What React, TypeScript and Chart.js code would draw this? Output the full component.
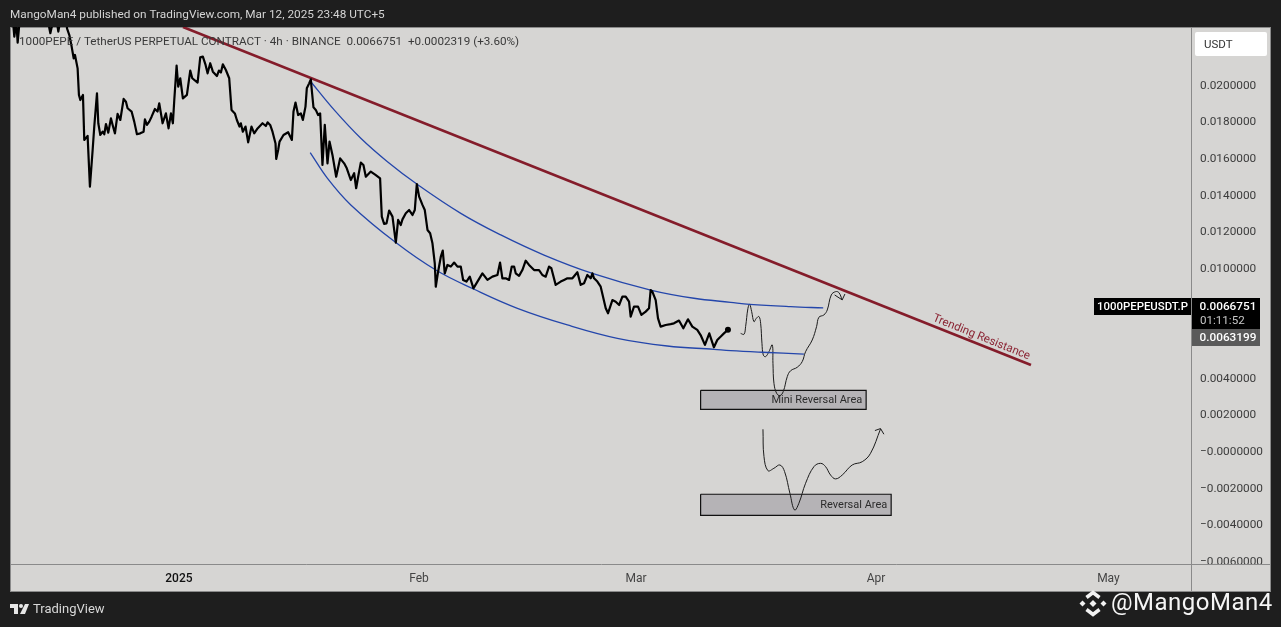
import React, { useEffect, useRef } from "react";
import { Chart, registerables } from "chart.js";

Chart.register(...registerables);

const priceDays = [
  -21.42,-21.25,-20.99,-20.82,-20.56,-16.95,-16.73,-16.6,-16.43,-15.87,-15.57,-15.31,-14.58,-14.45,-14.15,-13.85,-13.59,-13.42,-13.08,-12.91,-12.73,-12.39,-12.22,-11.79,-11.49,-11.14,-10.93,-10.58,-10.41,-10.15,-9.85,-9.64,-9.42,-9.12,-8.78,-8.56,-8.26,-7.92,-7.57,-7.14,-6.84,-6.63,-6.11,-5.77,-5.42,-4.99,-4.56,-4.39,-4.13,-3.83,-3.53,-3.1,-2.76,-2.54,-2.11,-1.68,-1.34,-1.03,-0.78,-0.6,-0.3,-0.09,0.17,0.51,1.03,1.46,1.72,2.41,2.75,3.09,3.44,3.7,4.04,4.38,4.9,5.16,5.42,5.67,6.06,6.49,6.79,7.22,7.48,7.82,7.99,8.25,8.6,8.94,9.37,9.72,10.15,10.58,10.79,11.22,11.44,11.78,12.08,12.47,12.56,12.81,12.99,13.5,14.1,14.58,14.79,15.05,15.39,15.74,16,16.34,16.51,16.81,17.03,17.11,17.37,17.67,17.97,18.23,18.53,18.83,19.18,19.44,19.82,20.3,20.81,21.33,21.67,22.19,22.62,22.88,23.14,23.48,23.82,24.13,24.77,25.42,25.97,
  26.19,26.49,26.8,27.14,27.57,28,28.3,28.64,28.86,29.29,29.72,30.15,30.45,30.71,31.01,31.44,31.74,32.09,32.43,32.73,33.03,33.16,33.46,33.81,34.06,34.32,34.67,35.1,35.53,35.96,36.39,36.69,37.12,37.55,38.02,38.54,39.18,39.83,40.47,41.12,41.46,41.76,42.19,42.62,42.97,43.27,43.48,43.91,44.34,44.77,45.2,45.85,46.49,46.92,47.35,47.78,48.08,48.64,49.29,49.72,50.15,50.8,51.44,51.87,52.3,52.73,53.16,53.38,53.59,54.02,54.45,55.1,55.4,55.96,56.39,56.83,57.25,57.68,58.11,58.32,58.75,59.27,59.7,60.26,60.69,60.9,61.12,61.55,61.85,62.19,62.84,63.48,63.91,64.56,65.12,65.72,66.28,66.92,67.35,67.91,68.47,69.07,69.5,70.02,70.36,70.88,
];
const priceValues = [
  0.0235,0.02269,0.0235,0.02237,0.0236,0.0238,0.02315,0.02288,0.0232,0.0238,0.02297,0.0236,0.0238,0.02315,0.02278,0.02215,0.02151,0.02169,0.02096,0.01951,0.01923,0.01951,0.01705,0.01727,0.0145,0.0165,0.01778,0.0196,0.01796,0.01732,0.0175,0.01736,0.01792,0.01745,0.01823,0.01787,0.01741,0.01847,0.01814,0.01929,0.01914,0.01878,0.0186,0.01805,0.01736,0.01741,0.0175,0.01818,0.01787,0.01805,0.01832,0.01874,0.0186,0.01905,0.01796,0.0185,0.01768,0.0185,0.01796,0.01923,0.02111,0.01996,0.02042,0.01932,0.01951,0.02084,0.02042,0.02018,0.02156,0.0216,0.02115,0.02069,0.02124,0.02078,0.02054,0.02084,0.02073,0.02118,0.02087,0.02042,0.01869,0.0185,0.01814,0.01778,0.01796,0.0175,0.01778,0.01692,0.01778,0.01741,0.01768,0.01787,0.01796,0.01781,0.01801,0.01787,0.0175,0.01686,0.01601,0.0165,0.01696,0.01732,0.01747,0.01705,0.0186,0.01909,0.01841,0.0185,0.01814,0.01887,0.01987,0.02014,0.02036,0.01996,0.01883,0.01869,0.01841,0.0185,0.01568,0.01787,0.01577,0.01696,0.01623,0.01504,0.01604,0.01577,0.0155,0.01486,0.01523,0.01441,0.01504,0.01581,0.01568,0.01504,0.01532,0.01513,0.01495,
  0.01286,0.01246,0.01249,0.01319,0.01286,0.01144,0.01268,0.0124,0.01271,0.01304,0.01322,0.01295,0.01322,0.01464,0.01395,0.0135,0.01322,0.01213,0.01195,0.0114,0.01031,0.00903,0.00985,0.01067,0.011,0.00976,0.01022,0.01013,0.01035,0.01013,0.01013,0.0094,0.00931,0.00958,0.00894,0.00931,0.00976,0.0094,0.00958,0.00967,0.01035,0.00949,0.00949,0.0094,0.01013,0.01013,0.00976,0.00962,0.00994,0.01045,0.01022,0.00994,0.00994,0.00967,0.00958,0.01013,0.01004,0.00913,0.00931,0.0094,0.00949,0.00949,0.00982,0.00913,0.00922,0.00967,0.00949,0.00976,0.00949,0.00931,0.00903,0.00785,0.00758,0.0083,0.00821,0.00803,0.00849,0.00849,0.00821,0.0074,0.00794,0.00794,0.00749,0.00767,0.00785,0.00885,0.00876,0.0083,0.0073,0.00685,0.00694,0.00699,0.00703,0.00718,0.00676,0.00725,0.00685,0.00667,0.00639,0.00585,0.00648,0.00572,0.00612,0.00634,0.00648,0.00668,
];
const lastPoint = [70.88, 0.00668];

const upperDays = [17.03,20.04,23.48,26.92,30.71,36.39,41.55,47.14,53.38,60.9,66.49,71.22,73.68,78.97,83.18];
const upperValues = [0.02023,0.01869,0.01714,0.01586,0.01464,0.01304,0.01186,0.01076,0.00976,0.00885,0.0084,0.00818,0.00807,0.00794,0.00787];
const lowerDays = [16.95,19.18,22.19,28,33.16,38.11,43.7,50.15,56.6,63.05,69.07,71.22,75.31,80.69];
const lowerValues = [0.01636,0.01495,0.0135,0.01144,0.00994,0.00889,0.00785,0.00694,0.00621,0.00579,0.00561,0.00554,0.00545,0.00535];

const resistanceDays = [0.52, 110];
const resistanceValues = [0.02322, 0.00475];

const projectionADays = [72.52,72.95,73.16,73.46,73.68,73.94,74.24,74.54,74.88,75.1,75.27,75.44,75.74,76.17,76.6,76.69,76.82,77.16,77.59,78.02,78.54,78.97,79.83,80.47,80.9,81.76,82.32,82.62,83.27,83.7,84.22,84.77,85.2,85.63];
const projectionAValues = [0.00648,0.00643,0.00685,0.00785,0.00807,0.00767,0.00712,0.0073,0.0074,0.00703,0.00594,0.0053,0.00521,0.00548,0.00585,0.00484,0.00375,0.00321,0.00308,0.0033,0.00412,0.00444,0.00463,0.00494,0.00548,0.00612,0.00685,0.00736,0.00749,0.00776,0.00858,0.00876,0.00871,0.00831];
const arrowADays = [84.65,85.63,85.98];
const arrowAValues = [0.00858,0.00831,0.00863];

const projectionBDays = [75.4,75.53,76.04,76.82,77.59,78.19,78.88,79.48,80.04,80.9,81.98,82.84,83.48,84.13,84.77,85.63,86.92,88.22,89.29,90.58];
const projectionBValues = [0.00124,-0.00025,-0.00102,-0.00089,-0.00071,-0.00107,-0.00226,-0.00317,-0.0028,-0.00171,-0.0008,-0.00062,-0.0008,-0.00126,-0.00147,-0.00126,-0.00071,-0.00053,-0.00007,0.00126];
const arrowBDays = [89.85,90.58,91.01];
const arrowBValues = [0.00117,0.00128,0.00097];

const miniZoneDays = [67.35, 88.72];
const miniZoneValues = [0.00337, 0.00233];
const reversalZoneDays = [67.35, 91.95];
const reversalZoneValues = [-0.00231, -0.00346];

const xTickValues = [0, 31, 59, 90, 120];
const xTickLabels = ["2025", "Feb", "Mar", "Apr", "May"];
const yTickValues = [0.02,0.018,0.016,0.014,0.012,0.01,0.008,0.006,0.004,0.002,0,-0.002,-0.004,-0.006];
const yTickLabels = ["0.0200000","0.0180000","0.0160000","0.0140000","0.0120000","0.0100000","0.0080000","0.0060000","0.0040000","0.0020000","\u22120.0000000","\u22120.0020000","\u22120.0040000","\u22120.0060000"];

const headerText = "MangoMan4 published on TradingView.com, Mar 12, 2025 23:48 UTC+5";
const symbolText = "1000PEPE / TetherUS PERPETUAL CONTRACT \u00b7 4h \u00b7 BINANCE  0.0066751  +0.0002319 (+3.60%)";

const FONT = 'Roboto, sans-serif';
const zip = (xs: number[], ys: number[]) => xs.map((x, i) => ({ x, y: ys[i] }));
const box = (xs: number[], ys: number[]) => [
  { x: xs[0], y: ys[0] }, { x: xs[1], y: ys[0] }, { x: xs[1], y: ys[1] }, { x: xs[0], y: ys[1] }, { x: xs[0], y: ys[0] },
];

const text = (ctx: any, s: string, x: number, y: number, font: string, color: string, align = "left", spacing = "0px") => {
  ctx.font = font;
  ctx.fillStyle = color;
  ctx.textAlign = align;
  ctx.textBaseline = "middle";
  ctx.letterSpacing = spacing;
  ctx.fillText(s, x, y);
  ctx.letterSpacing = "0px";
};

const framePlugin = {
  id: "frame",
  beforeDraw(chart: any) {
    const { ctx } = chart;
    ctx.save();
    ctx.fillStyle = "#1e1e1e";
    ctx.fillRect(0, 0, chart.width, chart.height);
    ctx.fillStyle = "#d6d5d3";
    ctx.fillRect(10, 27, 1261, 565);
    ctx.strokeStyle = "#8a8a8a";
    ctx.lineWidth = 1;
    ctx.strokeRect(10.5, 27.5, 1260, 564);
    ctx.restore();
  },
  afterDatasetsDraw(chart: any) {
    const { ctx, scales } = chart;
    const X = scales.x;
    const Y = scales.y;
    ctx.save();
    // strip below the plot hides the overflowing lowest price label
    ctx.fillStyle = "#d6d5d3";
    ctx.fillRect(1192, 565, 78, 26);
    ctx.fillStyle = "#8a8a8a";
    ctx.fillRect(1192, 564, 78, 1);
    ctx.fillRect(1191, 564, 1, 28);

    text(ctx, headerText, 10, 15.5, `11.8px ${FONT}`, "#d4d4d4");
    text(ctx, symbolText, 19, 42, `11.7px ${FONT}`, "#3a3a3a");

    text(ctx, "Mini Reversal Area", X.getPixelForValue(88.22), Y.getPixelForValue(0.00284), `11px ${FONT}`, "#2c2c2c", "right");
    text(ctx, "Reversal Area", X.getPixelForValue(91.45), Y.getPixelForValue(-0.00292), `11px ${FONT}`, "#2c2c2c", "right");

    ctx.save();
    ctx.translate(X.getPixelForValue(103.6), Y.getPixelForValue(0.00626));
    ctx.rotate((22 * Math.PI) / 180);
    text(ctx, "Trending Resistance", 0, 0, `11.5px ${FONT}`, "#8b2433", "center");
    ctx.restore();

    // USDT button
    ctx.fillStyle = "#ffffff";
    ctx.beginPath();
    ctx.roundRect(1195, 32, 72, 24, 2);
    ctx.fill();
    text(ctx, "USDT", 1204, 45.5, `11.5px ${FONT}`, "#333333");

    // last price labels
    ctx.fillStyle = "#000000";
    ctx.fillRect(1094, 298, 97, 17);
    ctx.fillRect(1192, 298, 68, 31);
    text(ctx, "1000PEPEUSDT.P", 1142.5, 307, `500 11.4px ${FONT}`, "#ffffff", "center");
    text(ctx, "0.0066751", 1199.5, 307, `500 11.8px ${FONT}`, "#ffffff");
    text(ctx, "01:11:52", 1200, 321, `11.6px ${FONT}`, "#c8c8c8");
    ctx.fillStyle = "#5a5a5a";
    ctx.fillRect(1192, 329, 68, 17);
    text(ctx, "0.0063199", 1199.5, 338, `500 11.8px ${FONT}`, "#ffffff");

    // TradingView mark
    ctx.fillStyle = "#e6e6e6";
    ctx.fillRect(10, 604, 8, 4);
    ctx.fillRect(14, 604, 4, 10);
    ctx.beginPath();
    ctx.arc(21, 606, 2, 0, Math.PI * 2);
    ctx.fill();
    ctx.beginPath();
    ctx.moveTo(25, 604);
    ctx.lineTo(29, 604);
    ctx.lineTo(25, 614);
    ctx.lineTo(20, 614);
    ctx.fill();
    text(ctx, "TradingView", 33, 609.5, `13px ${FONT}`, "#d8d8d8");

    // Binance mark
    const cx = 1093;
    const cy = 603.5;
    const diamond = (dx: number, dy: number, r: number) => {
      ctx.beginPath();
      ctx.moveTo(cx + dx, cy + dy - r);
      ctx.lineTo(cx + dx + r, cy + dy);
      ctx.lineTo(cx + dx, cy + dy + r);
      ctx.lineTo(cx + dx - r, cy + dy);
      ctx.closePath();
      ctx.fill();
    };
    ctx.fillStyle = "#f2f2f2";
    diamond(0, 0, 3.5);
    diamond(-10.5, 0, 3);
    diamond(10.5, 0, 3);
    ctx.strokeStyle = "#f2f2f2";
    ctx.lineWidth = 3.6;
    ctx.beginPath();
    ctx.moveTo(cx - 6.5, cy - 6);
    ctx.lineTo(cx, cy - 11);
    ctx.lineTo(cx + 6.5, cy - 6);
    ctx.stroke();
    ctx.beginPath();
    ctx.moveTo(cx - 6.5, cy + 6);
    ctx.lineTo(cx, cy + 11);
    ctx.lineTo(cx + 6.5, cy + 6);
    ctx.stroke();
    text(ctx, "@MangoMan4", 1111, 604, `24px ${FONT}`, "#f5f5f5", "left", "0.5px");
    ctx.restore();
  },
};

export default function App() {
  const ref = useRef<HTMLCanvasElement>(null);
  useEffect(() => {
    if (!ref.current) return;
    const thin = { showLine: true, pointRadius: 0, borderColor: "#1c1c1c", borderWidth: 1, fill: false };
    const chart = new Chart(ref.current, {
      type: "scatter",
      data: {
        datasets: [
          { data: zip(priceDays, priceValues), showLine: true, pointRadius: 0, borderColor: "#000000", borderWidth: 2.2, borderJoinStyle: "round", tension: 0, order: 1 },
          { data: [{ x: lastPoint[0], y: lastPoint[1] }], pointRadius: 3, pointBackgroundColor: "#000000", pointBorderWidth: 0, order: 0 },
          { data: zip(resistanceDays, resistanceValues), showLine: true, pointRadius: 0, borderColor: "#841c2a", borderWidth: 2.6, order: 2 },
          { data: zip(upperDays, upperValues), showLine: true, pointRadius: 0, borderColor: "#2446ab", borderWidth: 1.3, tension: 0.4, order: 3 },
          { data: zip(lowerDays, lowerValues), showLine: true, pointRadius: 0, borderColor: "#2446ab", borderWidth: 1.3, tension: 0.4, order: 3 },
          { data: zip(projectionADays, projectionAValues), ...thin, tension: 0.4, order: 4 },
          { data: zip(arrowADays, arrowAValues), ...thin, order: 4 },
          { data: zip(projectionBDays, projectionBValues), ...thin, tension: 0.4, order: 4 },
          { data: zip(arrowBDays, arrowBValues), ...thin, order: 4 },
          { data: box(miniZoneDays, miniZoneValues), showLine: true, pointRadius: 0, borderColor: "#111111", borderWidth: 1.2, backgroundColor: "#b5b3b6", fill: "shape", order: 5 },
          { data: box(reversalZoneDays, reversalZoneValues), showLine: true, pointRadius: 0, borderColor: "#111111", borderWidth: 1.2, backgroundColor: "#b5b3b6", fill: "shape", order: 5 },
        ],
      } as any,
      options: {
        animation: false,
        responsive: false,
        devicePixelRatio: 1,
        layout: { padding: { left: 11, top: 27, right: 10, bottom: 35 } },
        plugins: { legend: { display: false }, tooltip: { enabled: false }, title: { display: false } },
        scales: {
          x: {
            type: "linear",
            min: -21.68,
            max: 130.66,
            afterBuildTicks: (s: any) => { s.ticks = xTickValues.map((value) => ({ value })); },
            afterFit: (s: any) => { s.height = 28; },
            grid: { display: false },
            border: { display: true, color: "#8a8a8a", width: 1 },
            ticks: {
              autoSkip: false, maxRotation: 0, padding: 0,
              font: (c: any) => ({ family: FONT, size: 12, weight: c.index === 0 ? "500" : "normal" }),
              color: (c: any) => (c.index === 0 ? "#111111" : "#444444"),
              callback: (_v: any, i: number) => xTickLabels[i],
            },
          },
          y: {
            type: "linear",
            position: "right",
            min: -0.00612,
            max: 0.02322,
            afterBuildTicks: (s: any) => { s.ticks = yTickValues.map((value) => ({ value })); },
            afterFit: (s: any) => { s.width = 80; },
            grid: { display: false },
            border: { display: true, color: "#8a8a8a", width: 1 },
            ticks: {
              autoSkip: false, maxRotation: 0, padding: 1,
              font: { family: FONT, size: 11.8 },
              color: "#3c3c3c",
              callback: (_v: any, i: number) => yTickLabels[i],
            },
          },
        },
      } as any,
      plugins: [framePlugin],
    });
    return () => chart.destroy();
  }, []);
  return (
    <div style={{ position: "fixed", left: 0, top: 0, width: 1281, height: 627, background: "#1e1e1e" }}>
      <canvas ref={ref} width={1281} height={627} style={{ display: "block", width: 1281, height: 627 }} />
    </div>
  );
}
